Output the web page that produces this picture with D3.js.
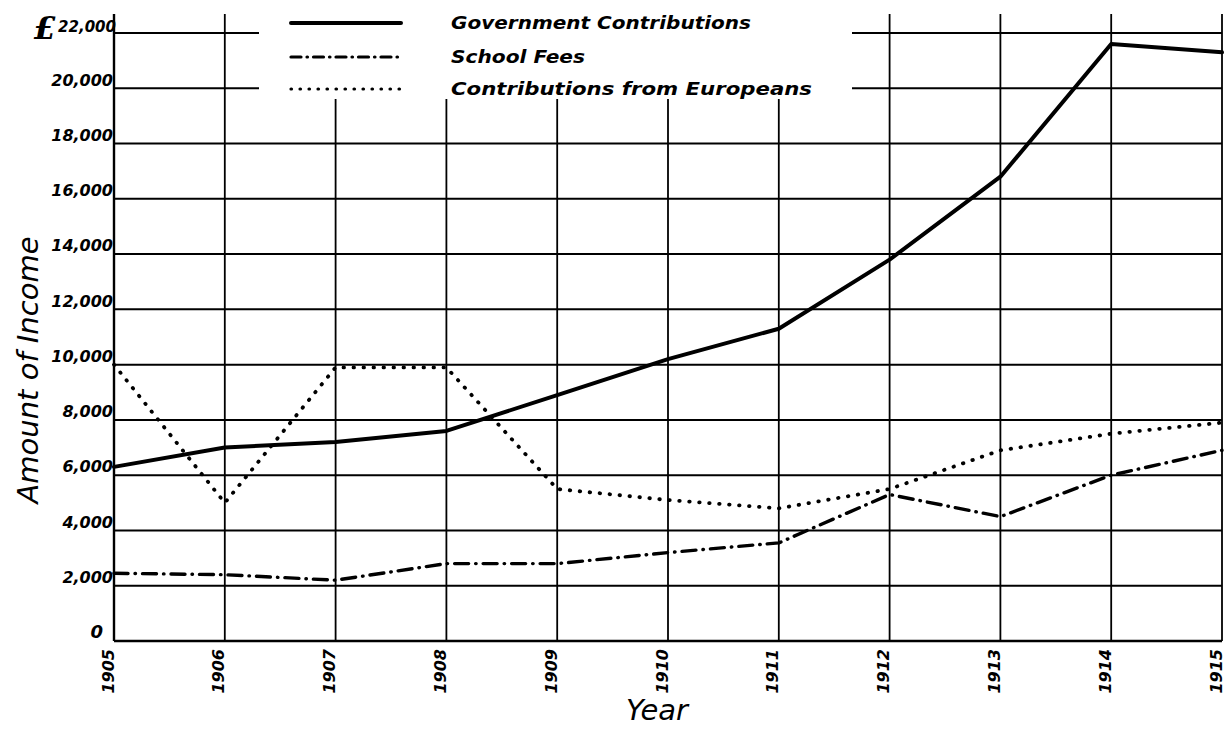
<!DOCTYPE html>
<html>
<head>
<meta charset="utf-8">
<script src="https://cdn.jsdelivr.net/npm/d3@7"></script>
<style>
  html, body { margin: 0; padding: 0; background: #fff; }
  svg { display: block; }
  .tick-label { font-family: "DejaVu Sans", sans-serif; font-style: italic; font-weight: bold; fill: #000; }
  .title { font-family: "DejaVu Sans", sans-serif; font-style: italic; fill: #000; }
  .legend-text { font-family: "DejaVu Sans", sans-serif; font-style: italic; font-weight: 600; fill: #000; }
</style>
</head>
<body>
<svg id="chart" width="1228" height="730"></svg>
<script>
// Income of the schools, 1905–1915 (pounds sterling)
const years = [1905, 1906, 1907, 1908, 1909, 1910, 1911, 1912, 1913, 1914, 1915];
const government = [6300, 7000, 7200, 7600, 8900, 10200, 11300, 13800, 16800, 21600, 21300];
const schoolFees = [2450, 2400, 2200, 2800, 2800, 3200, 3550, 5300, 4500, 6000, 6900];
const europeans = [10000, 5000, 9900, 9900, 5500, 5100, 4800, 5500, 6900, 7500, 7900];

const yTicks = [0, 2000, 4000, 6000, 8000, 10000, 12000, 14000, 16000, 18000, 20000, 22000];
const seriesNames = ["Government Contributions", "School Fees", "Contributions from Europeans"];

const svg = d3.select("#chart");

const x = d3.scaleLinear().domain([1905, 1915]).range([114, 1222]);
const y = d3.scaleLinear().domain([0, 22000]).range([641, 33]);

const ink = "#000";

// Horizontal rulings; the top two are broken where the key sits
const grid = svg.append("g");
yTicks.forEach(v => {
  if (v >= 20000) {
    grid.append("line").attr("x1", x(1905)).attr("x2", 259)
      .attr("y1", y(v)).attr("y2", y(v)).attr("stroke", ink).attr("stroke-width", 2);
    grid.append("line").attr("x1", 852).attr("x2", x(1915))
      .attr("y1", y(v)).attr("y2", y(v)).attr("stroke", ink).attr("stroke-width", 2);
  } else {
    grid.append("line").attr("x1", x(1905)).attr("x2", x(1915))
      .attr("y1", y(v)).attr("y2", y(v)).attr("stroke", ink)
      .attr("stroke-width", v === 0 ? 2.6 : 2);
  }
});

// Vertical rulings, one per year; those under the key start below it
years.forEach(yr => {
  const top = (yr >= 1907 && yr <= 1911) ? 99 : 14;
  grid.append("line").attr("x1", x(yr)).attr("x2", x(yr))
    .attr("y1", top).attr("y2", y(0)).attr("stroke", ink)
    .attr("stroke-width", yr === 1905 ? 2.4 : 1.8);
});

// Y axis labels
const yAxis = d3.axisLeft(y).tickValues(yTicks).tickSize(0).tickPadding(0)
  .tickFormat(v => v === 22000 ? "" : (v === 0 ? "0" : d3.format(",")(v)));
const yg = svg.append("g").attr("transform", "translate(113,0)").call(yAxis);
yg.select(".domain").remove();
yg.attr("font-size", null).attr("font-family", null);
yg.selectAll("text")
  .attr("class", "tick-label")
  .style("font-size", "16px")
  .attr("dy", "-0.2em")
  .attr("text-anchor", "end");
yg.selectAll(".tick").filter(d => d === 0).select("text").attr("x", -10).style("font-size", "18px");

// Top label carries a large pound sign
svg.append("text").attr("class", "tick-label")
  .attr("x", 56).attr("y", y(22000) + 6).attr("text-anchor", "end")
  .style("font-family", "'DejaVu Serif', serif").style("font-size", "32px")
  .text("£");
svg.append("text").attr("class", "tick-label")
  .attr("x", 116).attr("y", y(22000) - 1).attr("text-anchor", "end")
  .style("font-size", "15px")
  .text(d3.format(",")(22000));

// X axis labels, set vertically
const xAxis = d3.axisBottom(x).tickValues(years).tickSize(0).tickPadding(0)
  .tickFormat(d3.format("d"));
const xg = svg.append("g").attr("transform", `translate(0,${y(0)})`).call(xAxis);
xg.select(".domain").remove();
xg.attr("font-size", null).attr("font-family", null);
xg.selectAll("text")
  .attr("class", "tick-label")
  .style("font-size", "16px")
  .attr("text-anchor", "end")
  .attr("y", 0)
  .attr("dy", 0)
  .attr("transform", "translate(-1,8) rotate(-90)");

// Axis titles
svg.append("text").attr("class", "title")
  .attr("transform", "translate(38,370) rotate(-90)")
  .attr("text-anchor", "middle").style("font-size", "29px")
  .style("font-weight", 500)
  .text("Amount of Income");
svg.append("text").attr("class", "title")
  .attr("x", 657).attr("y", 720)
  .attr("text-anchor", "middle").style("font-size", "29px")
  .text("Year");

// Line styles for the three series
const styles = [
  { width: 4, dash: null, cap: "round" },
  { width: 3.4, dash: "14 7 0.5 7", cap: "round" },
  { width: 3.8, dash: "0.5 9.5", cap: "round" }
];
const seriesValues = [government, schoolFees, europeans];

const line = d3.line().x(d => x(d[0])).y(d => y(d[1]));

seriesValues.forEach((vals, i) => {
  const st = styles[i];
  svg.append("path")
    .datum(years.map((yr, j) => [yr, vals[j]]))
    .attr("d", line)
    .attr("fill", "none")
    .attr("stroke", ink)
    .attr("stroke-width", st.width)
    .attr("stroke-linecap", st.cap)
    .attr("stroke-linejoin", "round")
    .attr("stroke-dasharray", st.dash);
});

// Key
const legendY = [23, 57, 89];
const legendTextLen = [300, 134, 361];
const legend = svg.append("g");
seriesNames.forEach((name, i) => {
  const st = styles[i];
  legend.append("line")
    .attr("x1", 291).attr("x2", 401)
    .attr("y1", legendY[i]).attr("y2", legendY[i])
    .attr("stroke", ink)
    .attr("stroke-width", i === 0 ? 4 : 3.2)
    .attr("stroke-linecap", st.cap)
    .attr("stroke-dasharray", i === 1 ? "10 6 0.5 6" : (i === 2 ? "0.5 8.5" : null));
  legend.append("text").attr("class", "legend-text")
    .attr("x", 451).attr("y", legendY[i] + 6)
    .style("font-size", "18px")
    .attr("textLength", legendTextLen[i])
    .attr("lengthAdjust", "spacingAndGlyphs")
    .text(name);
});
</script>
</body>
</html>
